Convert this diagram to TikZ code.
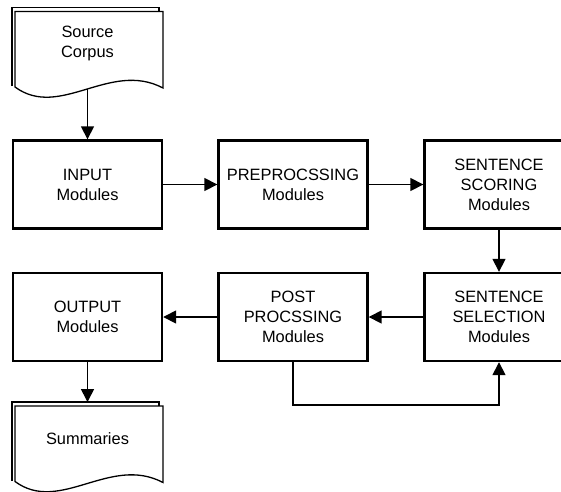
\documentclass[tikz,border=0pt]{standalone}
\usepackage{fontspec}
\setmainfont{Liberation Sans}
\usetikzlibrary{arrows.meta}
\newcommand\boxfont{\fontsize{16.4}{20}\selectfont}
\tikzset{
  box/.style={draw, line width=2.4pt, minimum width=149pt, minimum height=88pt,
    inner sep=0pt, align=center, font=\boxfont},
  arr/.style={draw, line width=1.6pt, -{Triangle[length=13pt,width=13pt]}},
  doc/.style={draw, line width=1.3pt, line join=miter},
  doctext/.style={align=center, font=\boxfont, inner sep=0pt},
}
\begin{document}
\begin{tikzpicture}[x=1pt, y=-1pt]
\useasboundingbox (0,0) rectangle (561,491);
\clip (0,0) rectangle (561,491);
\fill[white] (0,0) rectangle (561,491);

% Source corpus document
\draw[doc] (12,86) -- (12,7.5) -- (159,7.5) -- (159,11.5);
\draw[doc, fill=white] (15,11.5) -- (163,11.5) -- (163,88)
  .. controls (110,60) and (60,120) .. (15,87) -- cycle;
\node[doctext] (src) at (87.5,43) {Source\\Corpus};
\coordinate (srcout) at (87.5,89);

% Summaries document
\draw[doc] (12,480.5) -- (12,402) -- (159,402) -- (159,406);
\draw[doc, fill=white] (15,406) -- (163,406) -- (163,482.5)
  .. controls (110,454.5) and (60,514.5) .. (15,481.5) -- cycle;
\node[doctext] (sum) at (87.5,439) {Summaries};
\coordinate (sumin) at (87.5,402);

% Boxes
\node[box] (input) at (87.5,184.5) {INPUT\\Modules};
\node[box] (pre) at (293,184.5) {PREPROCSSING\\Modules};
\node[box] (score) at (499,184.5) {SENTENCE\\SCORING\\Modules};
\node[box] (sel) at (499,317) {SENTENCE\\SELECTION\\Modules};
\node[box] (post) at (293,317) {POST\\PROCSSING\\Modules};
\node[box] (out) at (87.5,317) {OUTPUT\\Modules};

% Connectors
\draw[arr] (srcout) -- (input.north);
\draw[arr] (input.east) -- (pre.west);
\draw[arr] (pre.east) -- (score.west);
\draw[arr] (score.south) -- (sel.north);
\draw[arr] (sel.west) -- (post.east);
\draw[arr] (post.west) -- (out.east);
\draw[arr] (out.south) -- (sumin);
\coordinate (loop) at (499,405);
\draw[arr] (post.south) |- (loop) -- (sel.south);
\end{tikzpicture}
\end{document}
